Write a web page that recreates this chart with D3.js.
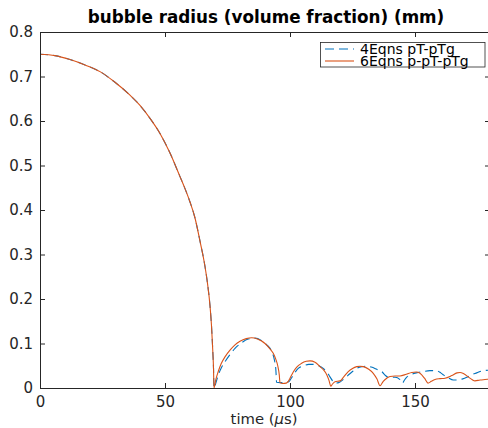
<!DOCTYPE html>
<html>
<head>
<meta charset="utf-8">
<script src="https://cdn.jsdelivr.net/npm/d3@7"></script>
<style>
  html, body { margin: 0; padding: 0; background: #fff; }
  svg { display: block; }
  text { font-family: "DejaVu Sans", "Liberation Sans", Arial, sans-serif; }
</style>
</head>
<body>
<svg id="chart" width="488" height="428"></svg>
<script>
// ---------------- data ----------------
const chartTitle = "bubble radius (volume fraction) (mm)";
const seriesNames = ["4Eqns pT-pTg", "6Eqns p-pT-pTg"];
const xTicks = [0, 50, 100, 150];
const yTicks = [0, 0.1, 0.2, 0.3, 0.4, 0.5, 0.6, 0.7, 0.8];
const yTickLabels = ["0", "0.1", "0.2", "0.3", "0.4", "0.5", "0.6", "0.7", "0.8"];

// shared collapse phase (time in µs, radius in mm)
const collapseTime = [0, 6, 12, 18, 24, 30, 36, 40, 44, 48, 52, 56, 58, 60, 62, 64, 66, 67, 68, 68.6, 69.1, 69.4];
const collapseRadius = [0.750, 0.747, 0.738, 0.726, 0.711, 0.687, 0.658, 0.635, 0.606, 0.572, 0.528, 0.475, 0.448, 0.418, 0.382, 0.330, 0.273, 0.235, 0.185, 0.140, 0.085, 0.045];

// 4Eqns rebound
const time4 = [69.6, 70.4, 71.3, 72.5, 74, 76, 78, 80.5, 83.3, 86, 88.5, 90.7, 92.7, 93.8, 94.3, 94.5, 94.6, 96, 98, 99.5,
  100.5, 101.3, 103.3, 105.5, 107.5, 109.3, 111.5, 113.3, 115, 116, 117.2, 118, 119.5, 121.5, 123.3, 125, 126.7, 128.7,
  130.7, 132.5, 134.7, 136.7, 138.2, 139.3, 140.5, 142, 144, 145, 145.8, 146.8, 148, 150.5, 153.3, 156, 158.5, 160.3,
  161.5, 163.3, 165.3, 167.3, 168.8, 170.7, 172.3, 174.7, 177.3, 180];
const radius4 = [0.000, 0.012, 0.029, 0.045, 0.059, 0.075, 0.089, 0.101, 0.110, 0.112, 0.107, 0.097, 0.082, 0.062, 0.044, 0.025, 0.013, 0.012, 0.012, 0.014,
  0.022, 0.029, 0.044, 0.050, 0.053, 0.053, 0.050, 0.044, 0.034, 0.025, 0.015, 0.011, 0.012, 0.020, 0.029, 0.037, 0.044, 0.048,
  0.049, 0.047, 0.042, 0.037, 0.028, 0.024, 0.024, 0.024, 0.019, 0.011, 0.018, 0.025, 0.029, 0.034, 0.037, 0.039, 0.039, 0.034,
  0.029, 0.023, 0.018, 0.018, 0.020, 0.024, 0.029, 0.034, 0.039, 0.040];

// 6Eqns rebound
const time6 = [69.6, 70.3, 71.3, 72.5, 74, 76, 78, 80, 82.5, 84.7, 87, 90, 92, 93.3, 94.3, 95.1, 95.7, 96, 97, 98.5, 99.3,
  100, 101.3, 102.7, 104.5, 106.5, 108, 110, 112, 113.5, 114.7, 115.6, 116.3, 117, 118, 120, 121.5, 123.3, 125, 126.7,
  128, 129.3, 131.5, 133.3, 134.8, 136, 137.3, 138.7, 140, 142, 144, 146.5, 148.7, 150.5, 152, 153.8, 155.2, 156.5,
  158, 160, 162, 164.7, 166.8, 168, 169.5, 171.3, 172.8, 174, 176, 178, 180];
const radius6 = [0.000, 0.018, 0.037, 0.055, 0.070, 0.085, 0.097, 0.105, 0.111, 0.113, 0.110, 0.100, 0.088, 0.078, 0.065, 0.050, 0.030, 0.012, 0.010, 0.011, 0.015,
  0.022, 0.036, 0.047, 0.055, 0.060, 0.061, 0.058, 0.048, 0.040, 0.030, 0.017, 0.004, 0.009, 0.014, 0.016, 0.025, 0.037, 0.044, 0.048,
  0.049, 0.048, 0.042, 0.033, 0.020, 0.005, 0.015, 0.022, 0.026, 0.027, 0.027, 0.031, 0.035, 0.036, 0.033, 0.022, 0.011, 0.015,
  0.019, 0.021, 0.022, 0.028, 0.034, 0.035, 0.032, 0.025, 0.019, 0.016, 0.018, 0.019, 0.020];

const colors = ["#0072BD", "#D95319"];

// ---------------- layout ----------------
const svg = d3.select("#chart");
const mLeft = 40, mRight = 490, mTop = 32, mBottom = 388;
const axisColor = "#262626";
const fontFam = "'DejaVu Sans', 'Liberation Sans', Arial, sans-serif";

const x = d3.scaleLinear().domain([0, 180]).range([mLeft, mRight]);
const y = d3.scaleLinear().domain([0, 0.8]).range([mBottom, mTop]);

const full4 = collapseTime.map((t, i) => [t, collapseRadius[i]]).concat(time4.map((t, i) => [t, radius4[i]]));
const full6 = collapseTime.map((t, i) => [t, collapseRadius[i]]).concat(time6.map((t, i) => [t, radius6[i]]));

const line = d3.line().x(d => x(d[0])).y(d => y(d[1])).curve(d3.curveMonotoneX);

svg.append("defs").append("clipPath").attr("id", "clip")
  .append("rect").attr("x", mLeft).attr("y", mTop).attr("width", mRight - mLeft).attr("height", mBottom - mTop);

const plot = svg.append("g").attr("clip-path", "url(#clip)");
plot.append("path").datum(full4).attr("d", line)
  .attr("fill", "none").attr("stroke", colors[0]).attr("stroke-width", 1.1)
  .attr("stroke-dasharray", "8,5");
plot.append("path").datum(full6).attr("d", line)
  .attr("fill", "none").attr("stroke", colors[1]).attr("stroke-width", 1.1);

// axes (MATLAB box style, inward ticks)
const tickLen = 5;
const axBottom = d3.axisBottom(x).tickValues(xTicks).tickSizeInner(-tickLen).tickSizeOuter(0).tickPadding(8).tickFormat(d3.format("d"));
const axTop = d3.axisTop(x).tickValues(xTicks).tickSizeInner(-tickLen).tickSizeOuter(0).tickFormat("");
const axLeft = d3.axisLeft(y).tickValues(yTicks).tickSizeInner(-tickLen).tickSizeOuter(0).tickPadding(7)
  .tickFormat((d, i) => yTickLabels[i]);
const axRight = d3.axisRight(y).tickValues(yTicks).tickSizeInner(-tickLen).tickSizeOuter(0).tickFormat("");

function styleAxis(g) {
  g.attr("font-family", fontFam).attr("font-size", 15);
  g.select(".domain").attr("stroke", axisColor).attr("stroke-width", 1);
  g.selectAll(".tick line").attr("stroke", axisColor).attr("stroke-width", 1);
  g.selectAll(".tick text").attr("fill", axisColor).attr("font-size", 15);
}
svg.append("g").attr("transform", `translate(0,${mBottom})`).call(axBottom).call(styleAxis);
svg.append("g").attr("transform", `translate(0,${mTop})`).call(axTop).call(styleAxis);
svg.append("g").attr("transform", `translate(${mLeft},0)`).call(axLeft).call(styleAxis);
svg.append("g").attr("transform", `translate(${mRight},0)`).call(axRight).call(styleAxis);

// title
svg.append("text").attr("x", 266).attr("y", 23)
  .attr("text-anchor", "middle").attr("font-size", 16.8).attr("font-weight", "bold").attr("fill", "#000")
  .text(chartTitle);

// x label
const xl = svg.append("text").attr("x", 264).attr("y", 424.2)
  .attr("text-anchor", "middle").attr("font-size", 14.8).attr("fill", axisColor);
xl.append("tspan").text("time (");
xl.append("tspan").attr("font-style", "italic").text("\u03BC");
xl.append("tspan").text("s)");

// legend
const lg = svg.append("g");
lg.append("rect").attr("x", 320.5).attr("y", 42.5).attr("width", 164.5).attr("height", 24.5)
  .attr("fill", "#fff").attr("stroke", axisColor).attr("stroke-width", 0.8);
seriesNames.forEach((name, i) => {
  const yy = 49 + i * 12;
  lg.append("line").attr("x1", 325).attr("x2", 354).attr("y1", yy).attr("y2", yy)
    .attr("stroke", colors[i]).attr("stroke-width", 1.1)
    .attr("stroke-dasharray", i === 0 ? "9,5" : null);
  lg.append("text").attr("x", 360).attr("y", yy).attr("dy", "0.36em")
    .attr("font-size", 14).attr("fill", "#000").text(name);
});
</script>
</body>
</html>
